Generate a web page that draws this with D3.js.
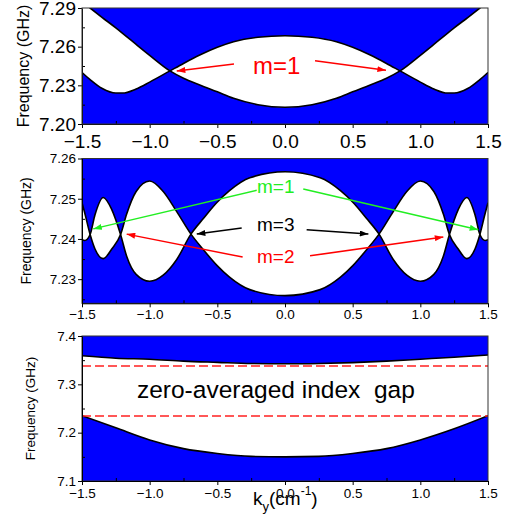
<!DOCTYPE html>
<html>
<head>
<meta charset="utf-8">
<script src="https://cdn.jsdelivr.net/npm/d3@7"></script>
<style>
body{margin:0;background:#fff;}
text{font-family:Arial,"Liberation Sans",sans-serif;}
</style>
</head>
<body>
<svg id="chart" width="519" height="525"></svg>
<script>
//k values shared by the x axes
const xTicks = [-1.5, -1.0, -0.5, 0.0, 0.5, 1.0, 1.5];
const xMinor = [-1.25, -0.75, -0.25, 0.25, 0.75, 1.25];

//top panel: two bands that cross at m=1
const kTop = [-1.5, -1.44, -1.35, -1.25, -1.2, -1.1, -1.0, -0.85, -0.75, -0.63, -0.5, -0.38, -0.2, 0,
              0.2, 0.38, 0.5, 0.63, 0.75, 0.85, 1.0, 1.1, 1.2, 1.25, 1.35, 1.44, 1.5];
const bandA = [7.2950, 7.2900, 7.2826, 7.2746, 7.2704, 7.2618, 7.2533, 7.2412, 7.2355, 7.2303, 7.2250, 7.2200, 7.2150, 7.2130,
               7.2150, 7.2200, 7.2250, 7.2303, 7.2355, 7.2412, 7.2533, 7.2618, 7.2704, 7.2746, 7.2826, 7.2900, 7.2950];
const bandB = [7.2400, 7.2345, 7.2275, 7.2240, 7.2240, 7.2272, 7.2325, 7.2412, 7.2470, 7.2535, 7.2595, 7.2638, 7.2673, 7.2685,
               7.2673, 7.2638, 7.2595, 7.2535, 7.2470, 7.2412, 7.2325, 7.2272, 7.2240, 7.2240, 7.2275, 7.2345, 7.2400];
const yTicksTop = [7.20, 7.23, 7.26, 7.29];
const yMinorTop = [7.215, 7.245, 7.275];

//middle panel: two bands crossing several times
const kMid = [-1.5, -1.48, -1.44, -1.404, -1.343, -1.28, -1.215, -1.17, -1.1, -1.0, -0.9, -0.8, -0.695, -0.6, -0.505, -0.41, -0.26, 0,
              0.26, 0.41, 0.505, 0.6, 0.695, 0.8, 0.9, 1.0, 1.1, 1.17, 1.215, 1.28, 1.343, 1.404, 1.44, 1.48, 1.5];
const bandP = [7.2398, 7.2396, 7.2411, 7.2460, 7.2503, 7.2473, 7.2411, 7.2357, 7.2312, 7.2295, 7.2310, 7.2349, 7.2412, 7.2452, 7.2490, 7.2520, 7.2552, 7.2567,
               7.2552, 7.2520, 7.2490, 7.2452, 7.2412, 7.2349, 7.2310, 7.2295, 7.2312, 7.2357, 7.2411, 7.2473, 7.2503, 7.2460, 7.2411, 7.2396, 7.2398];
const bandQ = [7.2490, 7.2465, 7.2411, 7.2375, 7.2351, 7.2375, 7.2411, 7.2462, 7.2518, 7.2544, 7.2518, 7.2468, 7.2412, 7.2372, 7.2335, 7.2305, 7.2274, 7.2259,
               7.2274, 7.2305, 7.2335, 7.2372, 7.2412, 7.2468, 7.2518, 7.2544, 7.2518, 7.2462, 7.2411, 7.2375, 7.2351, 7.2375, 7.2411, 7.2465, 7.2490];
const yTicksMid = [7.23, 7.24, 7.25, 7.26];
const yMinorMid = [7.225, 7.235, 7.245, 7.255];

//bottom panel: the zero-averaged index gap
const kBot = [-1.5, -1.25, -1.0, -0.75, -0.5, -0.25, 0, 0.25, 0.5, 0.75, 1.0, 1.25, 1.5];
const lowerBand = [7.2350, 7.2100, 7.1850, 7.1670, 7.1570, 7.1510, 7.1500, 7.1510, 7.1570, 7.1670, 7.1850, 7.2080, 7.2350];
const upperBand = [7.3590, 7.3540, 7.3520, 7.3480, 7.3455, 7.3432, 7.3425, 7.3432, 7.3450, 7.3480, 7.3520, 7.3560, 7.3607];
const gapEdges = [7.338, 7.2345];
const yTicksBot = [7.1, 7.2, 7.3, 7.4];
const yMinorBot = [7.15, 7.25, 7.35];

//annotation arrows in data units [k0, f0, k1, f1]
const topArrows = [[-0.377, 7.2466, -0.80, 7.2411], [0.222, 7.2491, 0.746, 7.2417]];
const midGreen = [[-0.209, 7.2521, -1.417, 7.2425], [0.135, 7.2524, 1.428, 7.2423]];
const midBlack = [[-0.32, 7.2427, -0.652, 7.2412], [0.16, 7.2423, 0.616, 7.2412]];
const midRed = [[-0.313, 7.2355, -1.17, 7.2412], [0.185, 7.2358, 1.17, 7.2405]];

const svg = d3.select("#chart");
const left = 82, right = 488;
const blue = "#0000ff";

//arrow heads
const defs = svg.append("defs");
for (let c of [["red", "#ff0000"], ["green", "#22ee22"], ["black", "#000000"]]) {
    defs.append("marker")
        .attr("id", "head-" + c[0])
        .attr("markerUnits", "userSpaceOnUse")
        .attr("viewBox", "0 0 10 7")
        .attr("refX", 10)
        .attr("refY", 3.5)
        .attr("markerWidth", 9)
        .attr("markerHeight", 6)
        .attr("orient", "auto")
        .append("path")
        .attr("d", "M0,0L10,3.5L0,7z")
        .style("fill", c[1]);
}

function makePanel(id, top, bottom, yDomain, yTicks, yMinor, tickFont, yFmt, xPad, title) {
    const x = d3.scaleLinear().domain([-1.5, 1.5]).range([left, right]);
    const y = d3.scaleLinear().domain(yDomain).range([bottom, top]);
    const g = svg.append("g");

    defs.append("clipPath").attr("id", "clip-" + id)
        .append("rect")
        .attr("x", left).attr("y", top)
        .attr("width", right - left).attr("height", bottom - top);

    const plot = g.append("g").attr("clip-path", "url(#clip-" + id + ")");
    plot.append("rect")
        .attr("x", left).attr("y", top)
        .attr("width", right - left).attr("height", bottom - top)
        .style("fill", blue);

    //frame
    g.append("rect")
        .attr("class", "frame")
        .attr("x", left).attr("y", top)
        .attr("width", right - left).attr("height", bottom - top)
        .style("fill", "none")
        .style("stroke", "#333")
        .style("stroke-width", 1);

    //major ticks outward
    const xa = g.append("g")
        .attr("transform", "translate(0," + bottom + ")")
        .call(d3.axisBottom(x).tickValues(xTicks).tickFormat(d3.format(".1f"))
            .tickSize(4).tickSizeOuter(0).tickPadding(xPad));
    const ya = g.append("g")
        .attr("transform", "translate(" + left + ",0)")
        .call(d3.axisLeft(y).tickValues(yTicks).tickFormat(d3.format(yFmt))
            .tickSize(4).tickSizeOuter(0).tickPadding(2));
    //minor ticks inward
    g.append("g")
        .attr("transform", "translate(0," + bottom + ")")
        .call(d3.axisBottom(x).tickValues(xMinor).tickFormat("").tickSize(-3).tickSizeOuter(0))
        .select(".domain").remove();
    g.append("g")
        .attr("transform", "translate(" + left + ",0)")
        .call(d3.axisLeft(y).tickValues(yMinor).tickFormat("").tickSize(-3).tickSizeOuter(0))
        .select(".domain").remove();

    for (let a of [xa, ya]) {
        a.selectAll("text").style("font-size", tickFont + "px").style("fill", "#000")
            .style("font-family", "Arial, 'Liberation Sans', sans-serif");
    }
    g.selectAll(".domain").style("stroke", "#000");
    g.selectAll(".tick line").style("stroke", "#000");

    g.append("text")
        .attr("transform", "translate(" + title[0] + "," + ((top + bottom) / 2) + ")rotate(-90)")
        .attr("text-anchor", "middle")
        .style("font-size", title[1] + "px")
        .text("Frequency (GHz)");

    return {x: x, y: y, plot: plot, g: g};
}

function drawBands(p, ks, s1, s2) {
    const area = d3.area()
        .curve(d3.curveMonotoneX)
        .x((d, i) => p.x(ks[i]))
        .y0((d, i) => p.y(s1[i]))
        .y1((d, i) => p.y(s2[i]));
    p.plot.append("path")
        .datum(ks)
        .attr("d", area)
        .style("fill", "#fff");
    for (let s of [s1, s2]) {
        const line = d3.line()
            .curve(d3.curveMonotoneX)
            .x((d, i) => p.x(ks[i]))
            .y((d, i) => p.y(s[i]));
        p.plot.append("path")
            .datum(ks)
            .attr("d", line)
            .style("fill", "none")
            .style("stroke", "#000")
            .style("stroke-width", 1.6);
    }
}

function drawArrows(p, arrows, color, name) {
    p.g.selectAll(null)
        .data(arrows)
        .enter()
        .append("line")
        .attr("x1", d => p.x(d[0]))
        .attr("y1", d => p.y(d[1]))
        .attr("x2", d => p.x(d[2]))
        .attr("y2", d => p.y(d[3]))
        .style("stroke", color)
        .style("stroke-width", 1.5)
        .attr("marker-end", "url(#head-" + name + ")");
}

function label(p, k, f, txt, color, size) {
    p.g.append("text")
        .attr("x", p.x(k))
        .attr("y", p.y(f))
        .style("font-size", size + "px")
        .style("fill", color)
        .text(txt);
}

//top panel
const pTop = makePanel("top", 8, 124, [7.20, 7.29], yTicksTop, yMinorTop, 19, ".2f", 7, [29, 16]);
drawBands(pTop, kTop, bandA, bandB);
pTop.g.select(".frame").raise();
drawArrows(pTop, topArrows, "#ff0000", "red");
label(pTop, -0.236, 7.2388, "m=1", "#ff0000", 24);

//middle panel
const pMid = makePanel("mid", 158.5, 303.3, [7.224, 7.26], yTicksMid, yMinorMid, 13.5, ".2f", 2, [30.5, 14]);
drawBands(pMid, kMid, bandP, bandQ);
drawArrows(pMid, midGreen, "#22ee22", "green");
drawArrows(pMid, midBlack, "#000000", "black");
drawArrows(pMid, midRed, "#ff0000", "red");
label(pMid, -0.207, 7.2515, "m=1", "#22ee22", 19);
label(pMid, -0.207, 7.2419, "m=3", "#000000", 19);
label(pMid, -0.207, 7.2340, "m=2", "#ff0000", 19);

//bottom panel
const pBot = makePanel("bot", 336, 481, [7.1, 7.4], yTicksBot, yMinorBot, 13.5, ".1f", 3, [35, 13.5]);
drawBands(pBot, kBot, lowerBand, upperBand);
pBot.plot.selectAll(".gap")
    .data(gapEdges)
    .enter()
    .append("line")
    .attr("x1", left)
    .attr("x2", right)
    .attr("y1", d => pBot.y(d))
    .attr("y2", d => pBot.y(d))
    .style("stroke", "#ff2020")
    .style("stroke-width", 1.5)
    .style("stroke-dasharray", "9,4");
pBot.g.append("text")
    .attr("x", pBot.x(-1.094))
    .attr("y", pBot.y(7.2717))
    .style("font-size", "24.5px")
    .style("white-space", "pre")
    .attr("xml:space", "preserve")
    .text("zero-averaged index  gap");

//x axis title
const xt = svg.append("text")
    .attr("x", 253)
    .attr("y", 505)
    .style("font-size", "19px");
xt.append("tspan").text("k");
xt.append("tspan").attr("dy", 6).style("font-size", "13px").text("y");
xt.append("tspan").attr("dy", -6).text("(cm");
xt.append("tspan").attr("dy", -10).style("font-size", "12px").text("-1");
xt.append("tspan").attr("dy", 10).text(")");
</script>
</body>
</html>
